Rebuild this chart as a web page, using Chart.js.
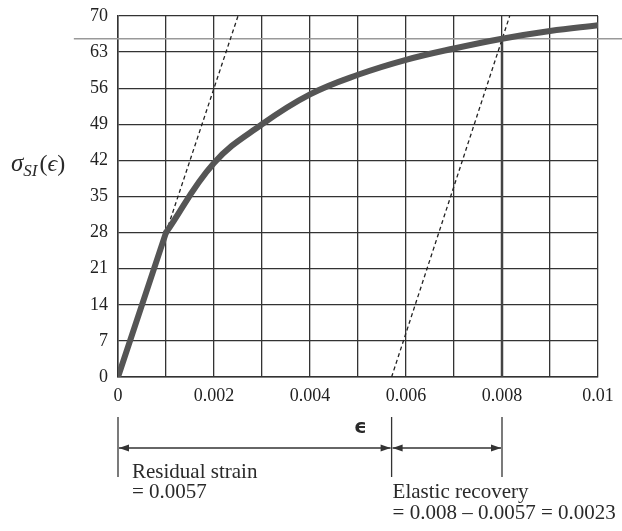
<!DOCTYPE html>
<html>
<head>
<meta charset="utf-8">
<script src="https://cdn.jsdelivr.net/npm/chart.js@4"></script>
<style>
  html, body { margin: 0; padding: 0; background: #fff; }
  #wrap { width: 622px; height: 531px; }
</style>
</head>
<body>
<div id="wrap"><canvas id="chart" width="622" height="531"></canvas></div>
<script>
// strain values along the curve (grid steps of 0.001)
const strain = [0, 0.001, 0.002, 0.003, 0.004, 0.005, 0.006, 0.007, 0.008, 0.009, 0.01];
// stress
const stress = [0, 28, 41.5, 49, 54.8, 58.6, 61.5, 63.7, 65.6, 67.1, 68.2];

// dashed elastic lines: [strain, stress] end points
const loadLineX = [0.001, 0.0025];
const loadLineY = [28, 70];
const unloadLineX = [0.0057, 0.00816];
const unloadLineY = [0, 70];

// unloading point and residual strain
const unloadStrain = 0.008;
const unloadStress = 65.6;
const residualStrain = 0.0057;
const stressLineX = [-0.00092, 0.0106];

const yMax = 70;
const yStep = 7;
const xMax = 0.01;

const serif = '"Liberation Serif", "DejaVu Serif", serif';

function pts(xs, ys) {
    return xs.map((x, i) => ({ x: x, y: ys[i] }));
}

// text and dimension lines under the x axis
const annotations = {
    id: 'annotations',
    afterDraw(chart) {
        const ctx = chart.ctx;
        const xs = chart.scales.x;
        const ca = chart.chartArea;
        const x0 = xs.getPixelForValue(0);
        const x1 = xs.getPixelForValue(residualStrain);
        const x2 = xs.getPixelForValue(unloadStrain);
        const tickTop = ca.bottom + 40;
        const tickBot = ca.bottom + 100;
        const arrowY = ca.bottom + 71;

        ctx.save();
        ctx.strokeStyle = '#333';
        ctx.fillStyle = '#333';
        ctx.lineWidth = 1.3;
        [x0, x1, x2].forEach(x => {
            ctx.beginPath();
            ctx.moveTo(x, tickTop);
            ctx.lineTo(x, tickBot);
            ctx.stroke();
        });

        function head(x, dir) {
            ctx.beginPath();
            ctx.moveTo(x, arrowY);
            ctx.lineTo(x - dir * 10, arrowY - 3.5);
            ctx.lineTo(x - dir * 10, arrowY + 3.5);
            ctx.closePath();
            ctx.fill();
        }
        function arrow(a, b) {
            ctx.beginPath();
            ctx.moveTo(a + 1, arrowY);
            ctx.lineTo(b - 1, arrowY);
            ctx.stroke();
            head(a + 1, -1);
            head(b - 1, 1);
        }
        arrow(x0, x1);
        arrow(x1, x2);

        ctx.fillStyle = '#2a2a2a';
        ctx.textBaseline = 'alphabetic';
        ctx.textAlign = 'left';
        ctx.font = '21px ' + serif;
        ctx.fillText('Residual strain', x0 + 14, ca.bottom + 101);
        ctx.fillText('= 0.0057', x0 + 14, ca.bottom + 121);
        ctx.fillText('Elastic recovery', x1 + 1, ca.bottom + 121);
        ctx.fillText('= 0.008 \u2013 0.0057 = 0.0023', x1 + 1, ca.bottom + 142);

        // x axis title
        ctx.font = 'bold 20px "DejaVu Sans", sans-serif';
        ctx.textAlign = 'center';
        ctx.fillText('\u03F5', xs.getPixelForValue(0.00505), ca.bottom + 56);

        // y axis title: sigma_SI(eps)
        let tx = 11;
        const ty = ca.top + 155;
        ctx.textAlign = 'left';
        ctx.font = 'italic 25px ' + serif;
        ctx.fillText('\u03C3', tx, ty);
        tx += ctx.measureText('\u03C3').width;
        ctx.font = 'italic 17px ' + serif;
        ctx.fillText('SI', tx, ty + 5);
        tx += ctx.measureText('SI').width + 2;
        ctx.font = '24px ' + serif;
        ctx.fillText('(', tx, ty);
        tx += ctx.measureText('(').width;
        ctx.font = 'italic 24px ' + serif;
        ctx.fillText('\u03F5', tx, ty);
        tx += ctx.measureText('\u03F5').width;
        ctx.font = '24px ' + serif;
        ctx.fillText(')', tx, ty);
        ctx.restore();
    }
};

const ctx = document.getElementById('chart');
new Chart(ctx, {
    type: 'line',
    data: {
        datasets: [
            {
                // straight elastic part
                data: pts(strain.slice(0, 2), stress.slice(0, 2)),
                borderColor: '#555',
                borderWidth: 6,
                borderCapStyle: 'round',
                pointRadius: 0
            },
            {
                // curved plastic part
                data: pts(strain.slice(1), stress.slice(1)),
                borderColor: '#555',
                borderWidth: 6,
                borderCapStyle: 'round',
                tension: 0.4,
                pointRadius: 0
            },
            {
                data: pts(loadLineX, loadLineY),
                borderColor: '#222',
                borderWidth: 1.3,
                borderDash: [4, 3],
                pointRadius: 0
            },
            {
                data: pts(unloadLineX, unloadLineY),
                borderColor: '#222',
                borderWidth: 1.3,
                borderDash: [4, 3],
                pointRadius: 0
            },
            {
                data: pts([unloadStrain, unloadStrain], [0, unloadStress]),
                borderColor: '#444',
                borderWidth: 2.5,
                pointRadius: 0
            },
            {
                data: pts(stressLineX, [unloadStress, unloadStress]),
                borderColor: '#999',
                borderWidth: 1.5,
                pointRadius: 0,
                clip: false
            }
        ]
    },
    options: {
        responsive: false,
        animation: false,
        layout: { padding: { left: 0, right: 24, top: 16, bottom: 0 } },
        plugins: {
            legend: { display: false },
            tooltip: { enabled: false }
        },
        scales: {
            x: {
                type: 'linear',
                min: 0,
                max: xMax,
                afterFit(scale) {
                    scale.height = 154;
                    scale.paddingLeft = 0;
                    scale.paddingRight = 0;
                },
                border: { display: true, color: '#333', width: 1.5 },
                grid: { color: '#333', lineWidth: 1.3, drawTicks: false },
                ticks: {
                    stepSize: 0.001,
                    autoSkip: false,
                    maxRotation: 0,
                    padding: 8,
                    color: '#222',
                    font: { family: serif, size: 18 },
                    callback: (v, i) => (i % 2 ? '' : String(Number(v.toFixed(4))))
                }
            },
            y: {
                min: 0,
                max: yMax,
                afterFit(scale) {
                    scale.width = 118;
                    scale.paddingTop = 0;
                    scale.paddingBottom = 0;
                },
                border: { display: true, color: '#333', width: 1.5 },
                grid: { color: '#333', lineWidth: 1.3, drawTicks: false },
                ticks: {
                    stepSize: yStep,
                    padding: 10,
                    color: '#222',
                    font: { family: serif, size: 18 }
                }
            }
        }
    },
    plugins: [annotations]
});
</script>
</body>
</html>
